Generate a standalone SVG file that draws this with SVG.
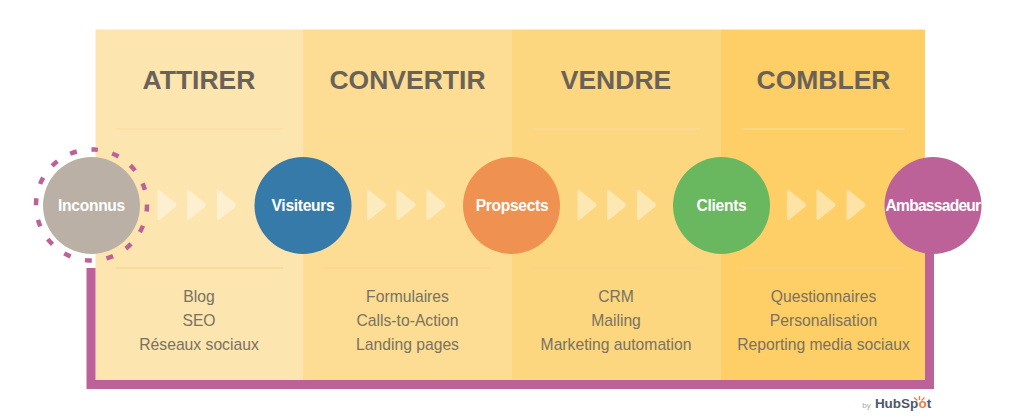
<svg xmlns="http://www.w3.org/2000/svg" width="1024" height="419" viewBox="0 0 1024 419">
<style>
text{font-family:"Liberation Sans",Arial,sans-serif;text-anchor:middle}
.h{font-size:26.5px;font-weight:700;fill:#6b6257}
.t{font-size:15.7px;fill:#7a7162}
.n{font-size:15.6px;font-weight:700;fill:#fff;letter-spacing:-.3px}
.r{stroke-width:1;fill:none}
.a{fill:#fff;fill-opacity:.42}
</style>
<defs>
<path id="tri" d="M0 -13.500Q0 -16.500 2.500 -14.500L18 -2Q20 0 18 2L2.500 14.500Q0 16.500 0 13.500Z" class="a"/>
<g id="tris"><use href="#tri" x="0"/><use href="#tri" x="29.500"/><use href="#tri" x="59.500"/></g>
</defs>
<rect width="1024" height="419" fill="#fff"/>
<g id="panels">
<rect id="panel-attirer" x="95.500" y="29.500" width="208" height="351" fill="#fce5ae"/>
<rect id="panel-convertir" x="303" y="29.500" width="209.500" height="351" fill="#fcdd93"/>
<rect id="panel-vendre" x="512" y="29.500" width="209.500" height="351" fill="#fcd77f"/>
<rect id="panel-combler" x="721" y="29.500" width="204" height="351" fill="#fdcf66"/>
</g>
<g id="rules">
<path class="r" stroke="#fbdca0" d="M116 129H283M325 129H491M533 129H700M742 129H905"/>
<path class="r" stroke="#fbd08a" d="M116 268H283M324 268H491M533 268H700M742 268H905"/>
</g>
<g id="connectors">
<path d="M91 268V384.500H929.500V250" fill="none" stroke="#bc6298" stroke-width="9"/>
<use href="#tris" x="157.500" y="205"/>
<use href="#tris" x="367" y="205"/>
<use href="#tris" x="577.500" y="205"/>
<use href="#tris" x="787" y="205"/>
</g>
<g id="titles">
<text class="h" x="199" y="89">ATTIRER</text>
<text class="h" x="407.500" y="89">CONVERTIR</text>
<text class="h" x="616" y="89">VENDRE</text>
<text class="h" x="823.500" y="89">COMBLER</text>
</g>
<g id="node-inconnus">
<circle cx="91.500" cy="205" r="55.500" fill="none" stroke="#bc6298" stroke-width="4.500" stroke-dasharray="7 14.790" stroke-dashoffset="3.500" transform="rotate(-87 91.500 205)"/>
<circle cx="91.500" cy="205.500" r="48.500" fill="#bbb0a5"/>
<text class="n" x="91.500" y="210.500">Inconnus</text>
</g>
<g id="node-visiteurs"><circle cx="303" cy="205.500" r="48.500" fill="#367aa9"/><text class="n" x="303" y="210.500">Visiteurs</text></g>
<g id="node-propsects"><circle cx="511.500" cy="205.500" r="48.500" fill="#ef9150"/><text class="n" x="512" y="210.500">Propsects</text></g>
<g id="node-clients"><circle cx="721.500" cy="205.500" r="48.500" fill="#69b75e"/><text class="n" x="721.500" y="210.500">Clients</text></g>
<g id="node-ambassadeur"><circle cx="933" cy="205.500" r="48.500" fill="#bc6298"/><text class="n" x="933" y="210.500" style="letter-spacing:-.75px">Ambassadeur</text></g>
<g id="lists">
<text class="t" x="199" y="302">Blog</text><text class="t" x="199" y="326">SEO</text><text class="t" x="199" y="350">Réseaux sociaux</text>
<text class="t" x="407.500" y="302">Formulaires</text><text class="t" x="407.500" y="326">Calls-to-Action</text><text class="t" x="407.500" y="350">Landing pages</text>
<text class="t" x="616" y="302">CRM</text><text class="t" x="616" y="326">Mailing</text><text class="t" x="616" y="350">Marketing automation</text>
<text class="t" x="823.500" y="302">Questionnaires</text><text class="t" x="823.500" y="326">Personalisation</text><text class="t" x="823.500" y="350">Reporting media sociaux</text>
</g>
<g id="brand">
<text x="866.500" y="408" style="font-size:8px;fill:#a8a8a8">by</text>
<text x="903" y="408" style="font-size:13.500px;font-weight:700;fill:#4b5a6b">HubSp<tspan fill="#f07a3c">o</tspan>t</text>
<path d="M914 397.500L917.500 400.500M921.500 400.500L924.500 397.500M919.500 400V396" stroke="#f07a3c" stroke-width="1.300" fill="none"/>
</g>
</svg>
